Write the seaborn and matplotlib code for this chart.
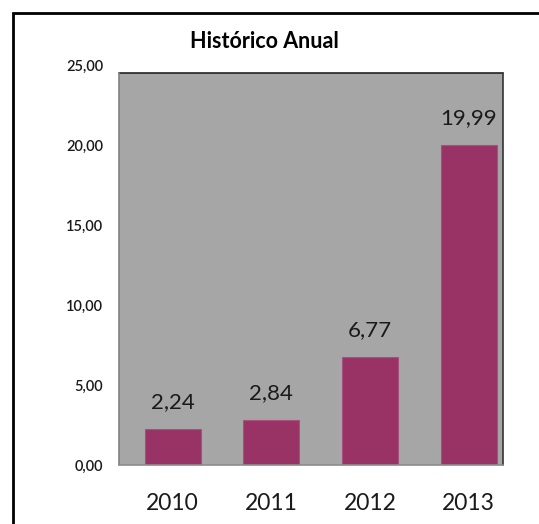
import matplotlib
matplotlib.use("Agg")
import matplotlib.pyplot as plt
from matplotlib.patches import Rectangle
from matplotlib.lines import Line2D
import seaborn as sns
import pandas as pd

# Annual history values
years = ["2010", "2011", "2012", "2013"]
values = [2.24, 2.84, 6.77, 19.99]
y_ticks = [0, 5, 10, 15, 20, 25]
title = "Histórico Anual"

bar_color = "#993366"
plot_bg = "#A6A6A6"

sns.set_theme(style="white")
plt.rcParams["font.family"] = ["Lato", "DejaVu Sans"]

W, H = 539, 524
fig = plt.figure(figsize=(W / 100, H / 100), dpi=100)
fig.patch.set_facecolor("white")

# Outer chart frame (left and top edges visible)
fig.add_artist(Rectangle((13 / W, -0.1), 1.2, (H - 13) / H + 0.1,
                         transform=fig.transFigure, fill=False,
                         edgecolor="black", linewidth=2.0))

ax = fig.add_axes([119 / W, 59 / H, 384 / W, 400 / H])
ax.set_facecolor("none")

# Grey plot area
top_frac = 392 / 400
ax.add_patch(Rectangle((0, 0), 1, top_frac, transform=ax.transAxes,
                       facecolor=plot_bg, edgecolor="none", zorder=0))
for xs, ys, c in [([0, 1], [top_frac, top_frac], "#222222"),
                  ([1, 1], [0, top_frac], "#333333"),
                  ([0, 0], [0, top_frac], "#808080"),
                  ([0, 1], [0, 0], "#8C8C8C")]:
    ax.add_line(Line2D(xs, ys, transform=ax.transAxes, color=c,
                       linewidth=1.2, zorder=3, clip_on=False))

df = pd.DataFrame({"ano": years, "valor": values})
sns.barplot(data=df, x="ano", y="valor", color=bar_color, saturation=1,
            width=0.57, ax=ax, zorder=2, edgecolor="#A8507E", linewidth=0.8)

for spine in ax.spines.values():
    spine.set_visible(False)

ax.set_xlim(-0.544, 3.348)
ax.set_ylim(0, 25)
ax.set_yticks(y_ticks)
ax.set_yticklabels([f"{v:.2f}".replace(".", ",") for v in y_ticks],
                   fontsize=10.5, color="#1a1a1a", fontweight="semibold")
ax.tick_params(axis="y", length=0, pad=11.5)
ax.tick_params(axis="x", length=0, pad=20, labelsize=16.5, labelcolor="#1a1a1a")
ax.set_xlabel("")
ax.set_ylabel("")
ax.grid(False)

ax.bar_label(ax.containers[0],
             labels=[f"{v:.2f}".replace(".", ",") for v in values],
             padding=12, fontsize=16, color="#1a1a1a")

fig.text(264 / W, 1 - 42 / H, title, ha="center", va="center",
         fontsize=15.5, fontweight="bold", color="black")

fig.savefig("out.png", dpi=100)
